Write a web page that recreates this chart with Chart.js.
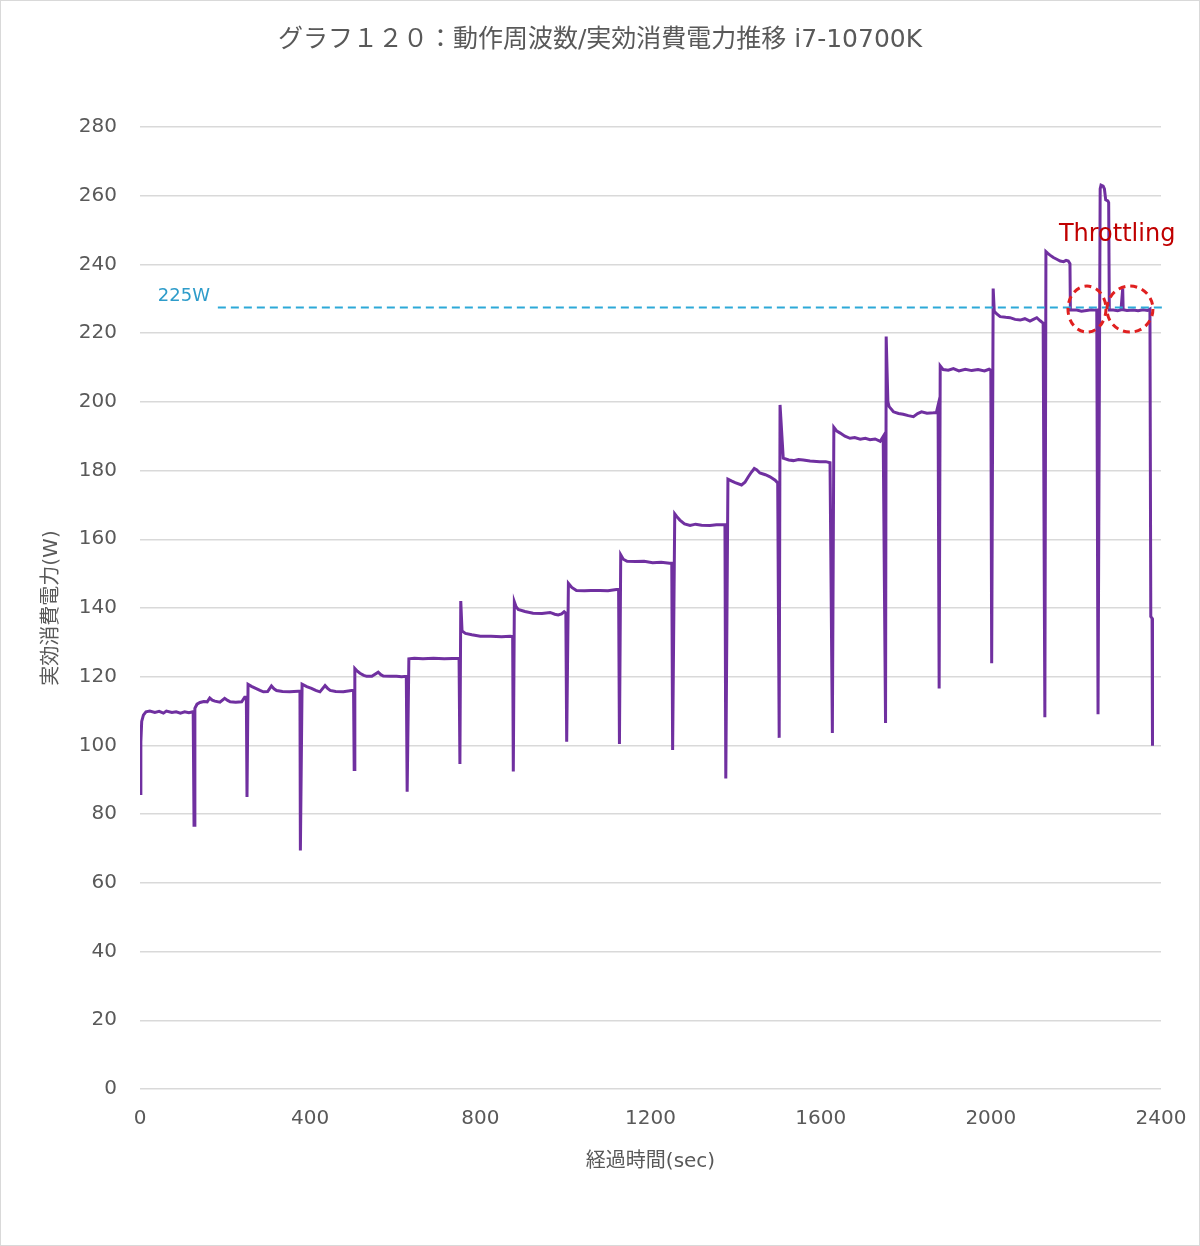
<!DOCTYPE html>
<html lang="ja">
<head>
<meta charset="UTF-8">
<title>グラフ120 i7-10700K</title>
<script src="https://cdn.jsdelivr.net/npm/chart.js@4.4.1/dist/chart.umd.min.js"></script>
<style>
    html, body { margin: 0; padding: 0; background: #fff; }
    #wrap { position: relative; width: 1200px; height: 1246px; }
</style>
</head>
<body>
<div id="wrap"><canvas id="powerChart"></canvas></div>
<script>
// ---- data ----
const timeSec = [
    0, 2, 4, 8, 14, 23, 35, 45, 55, 62, 75, 85, 95, 105, 115, 125, 127,
    129, 134, 141, 150, 158, 164, 170, 176, 188, 199, 206, 212, 225, 239, 246, 250, 251.5,
    254, 262, 272, 282, 290, 300, 309, 315, 321, 335, 352, 372, 376, 377,
    381, 392, 403, 413, 423, 435, 441, 447, 460, 478, 497, 502, 503.5,
    505, 511, 517, 526, 533, 545, 560, 566, 572, 590, 603, 615, 626, 628,
    632, 645, 665, 690, 715, 735, 750, 752,
    754, 757, 765, 780, 800, 825, 850, 870, 876, 877.5,
    880, 884, 889, 905, 924, 945, 964, 975, 983, 991, 997, 1001, 1003,
    1007, 1015, 1026, 1045, 1060, 1081, 1100, 1120, 1125, 1127,
    1130, 1136, 1145, 1165, 1185, 1205, 1225, 1245, 1250, 1252,
    1257, 1262, 1269, 1280, 1293, 1306, 1320, 1340, 1355, 1371, 1375, 1377,
    1382, 1390, 1399, 1414, 1422, 1430, 1437, 1444, 1450, 1457, 1470, 1481, 1493, 1499, 1502.5,
    1504.5, 1512, 1525, 1536, 1548, 1559, 1575, 1598, 1612, 1622, 1627.5,
    1631, 1638, 1646, 1657, 1669, 1680, 1693, 1705, 1716, 1728, 1740, 1747, 1752.5,
    1754, 1758, 1761, 1771, 1783, 1794, 1806, 1818, 1828, 1837, 1850, 1865, 1872, 1876, 1878.5,
    1881, 1888, 1900, 1912, 1925, 1940, 1955, 1970, 1985, 1996, 2000, 2002,
    2005.5, 2008, 2014, 2022, 2035, 2045, 2057, 2069, 2080, 2092, 2100, 2108, 2116, 2123, 2127,
    2129.5, 2134, 2139, 2147, 2155, 2163, 2171, 2177, 2182, 2186, 2187, 2202, 2213, 2225, 2236, 2245, 2249, 2252,
    2257, 2259, 2264, 2267, 2270, 2275, 2277, 2278.5, 2288, 2298, 2306, 2308, 2310, 2311, 2320, 2335, 2346, 2358, 2368, 2374, 2376, 2379, 2380
];
const powerW = [
    86, 101, 107, 108.8, 109.8, 110, 109.6, 109.9, 109.4, 110, 109.6, 109.8, 109.4, 109.8, 109.5, 109.8, 76.8,
    110.8, 112, 112.5, 112.8, 112.7, 113.8, 113.2, 112.9, 112.6, 113.7, 113.1, 112.7, 112.6, 112.7, 114, 114, 85,
    117.8, 117.2, 116.6, 116, 115.6, 115.7, 117.3, 116.5, 116, 115.7, 115.6, 115.8, 115.8, 69.4,
    117.8, 117.1, 116.6, 116, 115.6, 117.4, 116.6, 116, 115.7, 115.6, 116, 116, 93,
    122.4, 121.6, 121, 120.4, 120.1, 120.1, 121.3, 120.6, 120.2, 120.1, 120.1, 120, 120.1, 86.5,
    125.2, 125.4, 125.2, 125.4, 125.2, 125.3, 125.3, 94.6,
    142, 133.3, 132.6, 132.2, 131.8, 131.8, 131.6, 131.8, 131.7, 92.4,
    141.8, 140.4, 139.6, 139, 138.5, 138.4, 138.7, 138.2, 138, 138.3, 138.9, 138.5, 101.1,
    147.2, 146, 145.1, 145, 145.1, 145.1, 145, 145.4, 145.4, 100.4,
    155.5, 154.2, 153.6, 153.5, 153.6, 153.2, 153.3, 153, 153, 98.7,
    167.4, 166.6, 165.6, 164.5, 164, 164.4, 164.1, 164, 164.2, 164.2, 164.2, 90.4,
    177.5, 177, 176.5, 175.8, 176.6, 178.2, 179.5, 180.6, 180.2, 179.3, 178.8, 178.2, 177.2, 176.4, 102.2,
    199.1, 183.6, 183.1, 182.9, 183.2, 183.1, 182.8, 182.6, 182.6, 182.3, 103.6,
    192.6, 191.5, 190.9, 190, 189.4, 189.6, 189.1, 189.4, 189, 189.2, 188.5, 189.9, 106.5,
    219, 200, 198.6, 197.1, 196.6, 196.4, 196, 195.7, 196.6, 197.1, 196.7, 196.8, 196.9, 199, 116.6,
    210.5, 209.4, 209.2, 209.7, 209, 209.5, 209.1, 209.4, 209, 209.5, 209.2, 123.9,
    233, 226.4, 225.6, 224.8, 224.6, 224.5, 224, 223.8, 224.2, 223.5, 224, 224.5, 223.6, 222.9, 108.2,
    243.7, 243.2, 242.7, 242, 241.5, 241, 240.8, 241.2, 241, 240.2, 226.7, 226.7, 226.4, 226.6, 226.8, 226.7, 226.7, 109.1,
    262, 263.1, 262.8, 262, 258.8, 258.5, 258, 226.7, 226.7, 226.5, 226.8, 226.8, 233, 226.8, 226.6, 226.7, 226.5, 226.8, 226.6, 227, 137.5, 137, 99.9
];

// 225W guide line
const limitTime = [183, 2412];
const limitPower = [227.5, 227.5];

// throttling markers (centre of each dashed circle)
const throttleTime = [2226, 2327];
const throttlePower = [227, 227];

const xTicks = [0, 400, 800, 1200, 1600, 2000, 2400];
const yTicks = [0, 20, 40, 60, 80, 100, 120, 140, 160, 180, 200, 220, 240, 260, 280];

const TITLE = 'グラフ１２０：動作周波数/実効消費電力推移 i7-10700K';
const FONT = "'DejaVu Sans', 'Noto Sans CJK JP', sans-serif";
const GREY = '#595959';

// white background + thin frame
const framePlugin = {
    id: 'frame',
    beforeDraw(chart) {
        const c = chart.ctx;
        c.save();
        c.fillStyle = '#fff';
        c.fillRect(0, 0, chart.width, chart.height);
        c.strokeStyle = '#d9d9d9';
        c.lineWidth = 1;
        c.strokeRect(0.5, 0.5, chart.width - 1, chart.height - 1);
        c.restore();
    }
};

// title centred on the whole image, plus annotations
const notesPlugin = {
    id: 'notes',
    afterDatasetsDraw(chart) {
        const c = chart.ctx;
        const xs = chart.scales.x;
        const ys = chart.scales.y;
        c.save();

        c.font = '25px ' + FONT;
        c.fillStyle = GREY;
        c.textAlign = 'center';
        c.textBaseline = 'middle';
        c.fillText(TITLE, chart.width / 2, 40);

        c.textAlign = 'left';
        c.font = '18px ' + FONT;
        c.fillStyle = '#2E9CCA';
        c.fillText('225W', xs.getPixelForValue(42), ys.getPixelForValue(230.8));

        c.font = '24px ' + FONT;
        c.fillStyle = '#C00000';
        c.fillText('Throttling', xs.getPixelForValue(2160), ys.getPixelForValue(248.5));

        c.strokeStyle = '#E02020';
        c.lineWidth = 3;
        c.setLineDash([7, 5]);
        const radii = [[19, 23], [23, 23]];
        throttleTime.forEach((t, i) => {
            c.beginPath();
            c.ellipse(xs.getPixelForValue(t), ys.getPixelForValue(throttlePower[i]),
                radii[i][0], radii[i][1], 0, 0, Math.PI * 2);
            c.stroke();
        });
        c.restore();
    }
};

new Chart(document.getElementById('powerChart'), {
    type: 'line',
    data: {
        datasets: [
            {
                label: '225W',
                data: limitTime.map((t, i) => ({ x: t, y: limitPower[i] })),
                borderColor: '#2DA9D8',
                borderWidth: 2,
                borderDash: [8, 5],
                pointRadius: 0,
                clip: false,
                order: 0
            },
            {
                label: '実効消費電力',
                data: timeSec.map((t, i) => ({ x: t, y: powerW[i] })),
                borderColor: '#7030A0',
                borderWidth: 3,
                pointRadius: 0,
                tension: 0,
                order: 1
            }
        ]
    },
    options: {
        responsive: true,
        maintainAspectRatio: false,
        animation: false,
        layout: { padding: { left: 0, right: 39, top: 127, bottom: 0 } },
        plugins: {
            legend: { display: false },
            tooltip: { enabled: false },
            title: { display: false }
        },
        scales: {
            x: {
                type: 'linear',
                min: 0,
                max: 2400,
                afterBuildTicks(scale) {
                    scale.ticks = xTicks.map(v => ({ value: v }));
                },
                afterFit(scale) {
                    scale.height = 157;
                    scale.paddingLeft = 0;
                    scale.paddingRight = 0;
                },
                grid: { display: false, drawTicks: false },
                border: { display: false },
                ticks: {
                    color: GREY,
                    font: { family: FONT, size: 20 },
                    padding: 18,
                    maxRotation: 0,
                    callback: v => String(v)
                },
                title: {
                    display: true,
                    text: '経過時間(sec)',
                    color: GREY,
                    font: { family: FONT, size: 20 },
                    padding: { top: 0, bottom: 72 }
                }
            },
            y: {
                min: 0,
                max: 280,
                afterBuildTicks(scale) {
                    scale.ticks = yTicks.map(v => ({ value: v }));
                },
                afterFit(scale) {
                    scale.width = 140;
                    scale.paddingTop = 0;
                    scale.paddingBottom = 0;
                },
                grid: { color: '#d9d9d9', lineWidth: 1.5, drawTicks: false },
                border: { display: false },
                ticks: {
                    color: GREY,
                    font: { family: FONT, size: 20 },
                    padding: 23,
                    callback: v => String(v)
                },
                title: {
                    display: true,
                    text: '実効消費電力(W)',
                    color: GREY,
                    font: { family: FONT, size: 20 },
                    padding: { top: 40, bottom: 0 }
                }
            }
        }
    },
    plugins: [framePlugin, notesPlugin]
});
</script>
</body>
</html>
